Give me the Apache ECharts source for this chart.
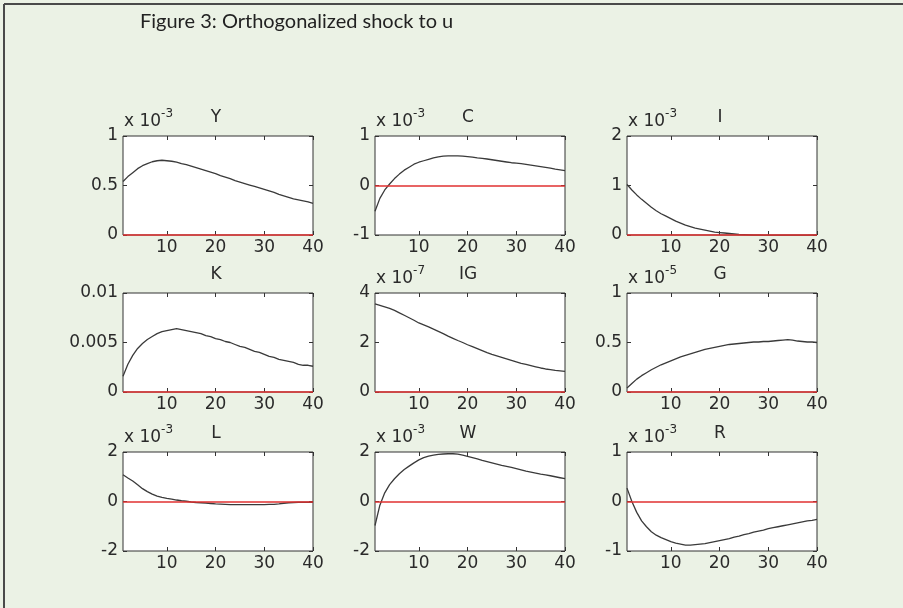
<!DOCTYPE html>
<html>
<head>
<meta charset="utf-8">
<script src="https://cdn.jsdelivr.net/npm/echarts@6/dist/echarts.min.js"></script>
<style>
html,body{margin:0;padding:0;background:#ebf2e5;}
#chart{width:903px;height:608px;}
</style>
</head>
<body>
<div id="chart"></div>
<script>
// ---- data ----
const periods = [1,2,3,4,5,6,7,8,9,10,11,12,13,14,15,16,17,18,19,20,21,22,23,24,25,26,27,28,29,30,31,32,33,34,35,36,37,38,39,40];
const xTickLabels = [10, 20, 30, 40];
const figureTitle = 'Figure 3: Orthogonalized shock to u';
const panelNames = ['Y', 'C', 'I', 'K', 'IG', 'G', 'L', 'W', 'R'];
const panelExponents = ['-3', '-3', '-3', '', '-7', '-5', '-3', '-3', '-3'];
const yMins = [0, -1, 0, 0, 0, 0, -2, -2, -1];
const yMaxs = [1, 1, 2, 0.01, 4, 1, 2, 2, 1];
const yIntervals = [0.5, 1, 1, 0.005, 2, 0.5, 2, 2, 1];

// values in units of the panel's exponent (x 10^exp); K in raw units
const valY = [0.54,0.59,0.63,0.67,0.70,0.72,0.74,0.75,0.755,0.75,0.745,0.735,0.72,0.71,0.695,0.68,0.665,0.65,0.635,0.62,0.60,0.585,0.57,0.55,0.535,0.52,0.505,0.49,0.475,0.46,0.445,0.43,0.41,0.395,0.38,0.365,0.355,0.345,0.335,0.32];
const valC = [-0.52,-0.26,-0.09,0.03,0.14,0.23,0.31,0.37,0.43,0.47,0.50,0.53,0.56,0.58,0.595,0.60,0.60,0.60,0.595,0.585,0.575,0.56,0.55,0.535,0.52,0.505,0.49,0.475,0.46,0.45,0.44,0.425,0.41,0.395,0.38,0.365,0.35,0.33,0.315,0.30];
const valI = [1.02,0.91,0.81,0.72,0.64,0.56,0.49,0.43,0.38,0.33,0.28,0.24,0.20,0.17,0.14,0.12,0.10,0.08,0.06,0.05,0.04,0.03,0.02,0.01,0.005,0.0,-0.005,-0.005,-0.01,-0.01,-0.01,-0.01,-0.01,-0.01,-0.01,-0.008,-0.008,-0.006,-0.005,-0.005];
const valK = [0.0016,0.0028,0.0037,0.0044,0.0049,0.0053,0.0056,0.0059,0.0061,0.0062,0.0063,0.0064,0.0063,0.0062,0.0061,0.0060,0.0059,0.0057,0.0056,0.0054,0.0053,0.0051,0.0050,0.0048,0.0046,0.0045,0.0043,0.0041,0.0040,0.0038,0.0036,0.0035,0.0033,0.0032,0.0031,0.0030,0.0028,0.0027,0.0027,0.0026];
const valIG = [3.56,3.50,3.44,3.38,3.30,3.20,3.10,3.00,2.90,2.79,2.71,2.63,2.54,2.45,2.36,2.26,2.17,2.08,2.00,1.91,1.83,1.75,1.67,1.59,1.52,1.46,1.40,1.34,1.28,1.22,1.16,1.12,1.07,1.02,0.97,0.93,0.90,0.87,0.85,0.83];
const valG = [0.04,0.085,0.13,0.165,0.195,0.225,0.25,0.275,0.295,0.315,0.335,0.355,0.37,0.385,0.40,0.415,0.43,0.44,0.45,0.46,0.47,0.48,0.485,0.49,0.495,0.50,0.505,0.505,0.51,0.51,0.515,0.52,0.525,0.53,0.525,0.515,0.51,0.505,0.505,0.50];
const valL = [1.08,0.95,0.83,0.68,0.52,0.40,0.30,0.22,0.17,0.13,0.10,0.06,0.03,0.01,-0.02,-0.04,-0.05,-0.06,-0.08,-0.10,-0.11,-0.12,-0.13,-0.13,-0.13,-0.13,-0.13,-0.13,-0.13,-0.13,-0.12,-0.12,-0.10,-0.07,-0.05,-0.04,-0.03,-0.03,-0.03,-0.03];
const valW = [-0.97,-0.15,0.35,0.68,0.92,1.12,1.29,1.43,1.56,1.68,1.77,1.83,1.87,1.90,1.92,1.93,1.93,1.91,1.87,1.82,1.77,1.72,1.66,1.61,1.56,1.51,1.46,1.42,1.38,1.33,1.28,1.23,1.19,1.15,1.11,1.08,1.04,1.00,0.96,0.92];
const valR = [0.27,0.0,-0.22,-0.39,-0.51,-0.61,-0.68,-0.73,-0.77,-0.81,-0.84,-0.86,-0.88,-0.88,-0.87,-0.86,-0.85,-0.83,-0.81,-0.79,-0.77,-0.75,-0.72,-0.70,-0.67,-0.65,-0.62,-0.60,-0.58,-0.55,-0.53,-0.51,-0.49,-0.47,-0.45,-0.43,-0.41,-0.39,-0.38,-0.36];
const panelValues = [valY, valC, valI, valK, valIG, valG, valL, valW, valR];

// ---- layout / style ----
const colLefts = [123, 375, 627];
const rowTops = [136, 293, 452];
const plotW = 190, plotH = 99;
const FONT = 'DejaVu Sans';
const tickFont = 17;
const textColor = '#2a2a2a';
const boxColor = '#333';

const grids = [], xAxes = [], yAxes = [], series = [], graphics = [];

graphics.push({type:'line', shape:{x1:4, y1:4, x2:903, y2:4}, style:{stroke:'#4a4a4a', lineWidth:2}});
graphics.push({type:'line', shape:{x1:4, y1:4, x2:4, y2:608}, style:{stroke:'#4a4a4a', lineWidth:2}});
graphics.push({type:'text', x:140, y:22, style:{text:figureTitle, fill:'#222', font:'20px Lato', align:'left', verticalAlign:'middle'}});

panelNames.forEach((name, i) => {
  const left = colLefts[i % 3], top = rowTops[Math.floor(i / 3)];
  grids.push({left:left, top:top, width:plotW, height:plotH, show:true, backgroundColor:'#fff',
    borderColor:boxColor, borderWidth:1, containLabel:false, outerBoundsMode:'none'});
  const xBase = {type:'value', gridIndex:i, min:1, max:40, splitLine:{show:false},
    axisLine:{show:false, onZero:false}};
  xAxes.push(Object.assign({}, xBase, {position:'bottom',
    axisTick:{show:true, inside:true, length:4, lineStyle:{color:boxColor}, customValues:xTickLabels},
    axisLabel:{show:true, margin:4, color:textColor, fontFamily:FONT, fontSize:tickFont, customValues:xTickLabels}}));
  xAxes.push(Object.assign({}, xBase, {position:'top',
    axisTick:{show:true, inside:true, length:4, lineStyle:{color:boxColor}, customValues:xTickLabels},
    axisLabel:{show:false}}));
  const yBase = {type:'value', gridIndex:i, min:yMins[i], max:yMaxs[i], interval:yIntervals[i],
    splitLine:{show:false}, axisLine:{show:false, onZero:false}};
  yAxes.push(Object.assign({}, yBase, {position:'left',
    axisTick:{show:true, inside:true, length:4, lineStyle:{color:boxColor}},
    axisLabel:{show:true, margin:5, color:textColor, fontFamily:FONT, fontSize:tickFont,
      formatter: v => String(Math.round(v * 1e6) / 1e6)}}));
  yAxes.push(Object.assign({}, yBase, {position:'right',
    axisTick:{show:true, inside:true, length:4, lineStyle:{color:boxColor}},
    axisLabel:{show:false}}));
  series.push({type:'line', xAxisIndex:2*i, yAxisIndex:2*i, showSymbol:false, symbol:'none',
    data: periods.map((p, k) => [p, panelValues[i][k]]),
    lineStyle:{color:'#3a3a3a', width:1.3}, animation:false, z:3,
    markLine:{silent:true, symbol:'none', animation:false, label:{show:false},
      lineStyle:{color:'#e03030', width:1.6, type:'solid'}, data:[{yAxis:0}]}});
  // panel title
  graphics.push({type:'text', x:left + plotW / 2 - 2, y:top - 18,
    style:{text:name, fill:textColor, font:'17px "' + FONT + '"', align:'center', verticalAlign:'middle'}});
  if (panelExponents[i]) {
    graphics.push({type:'text', x:left + 1, y:top - 17,
      style:{text:'{b|x 10}{s|' + panelExponents[i] + '}', fill:textColor, align:'left', verticalAlign:'middle',
        rich:{b:{fontFamily:FONT, fontSize:17, lineHeight:22, verticalAlign:'bottom', fill:textColor},
              s:{fontFamily:FONT, fontSize:12, lineHeight:22, verticalAlign:'top', fill:textColor}}}});
  }
});

const chart = echarts.init(document.getElementById('chart'), null, {renderer:'canvas'});
chart.setOption({
  backgroundColor:'#ebf2e5',
  animation:false,
  grid:grids, xAxis:xAxes, yAxis:yAxes, series:series, graphic:graphics
});
</script>
</body>
</html>
